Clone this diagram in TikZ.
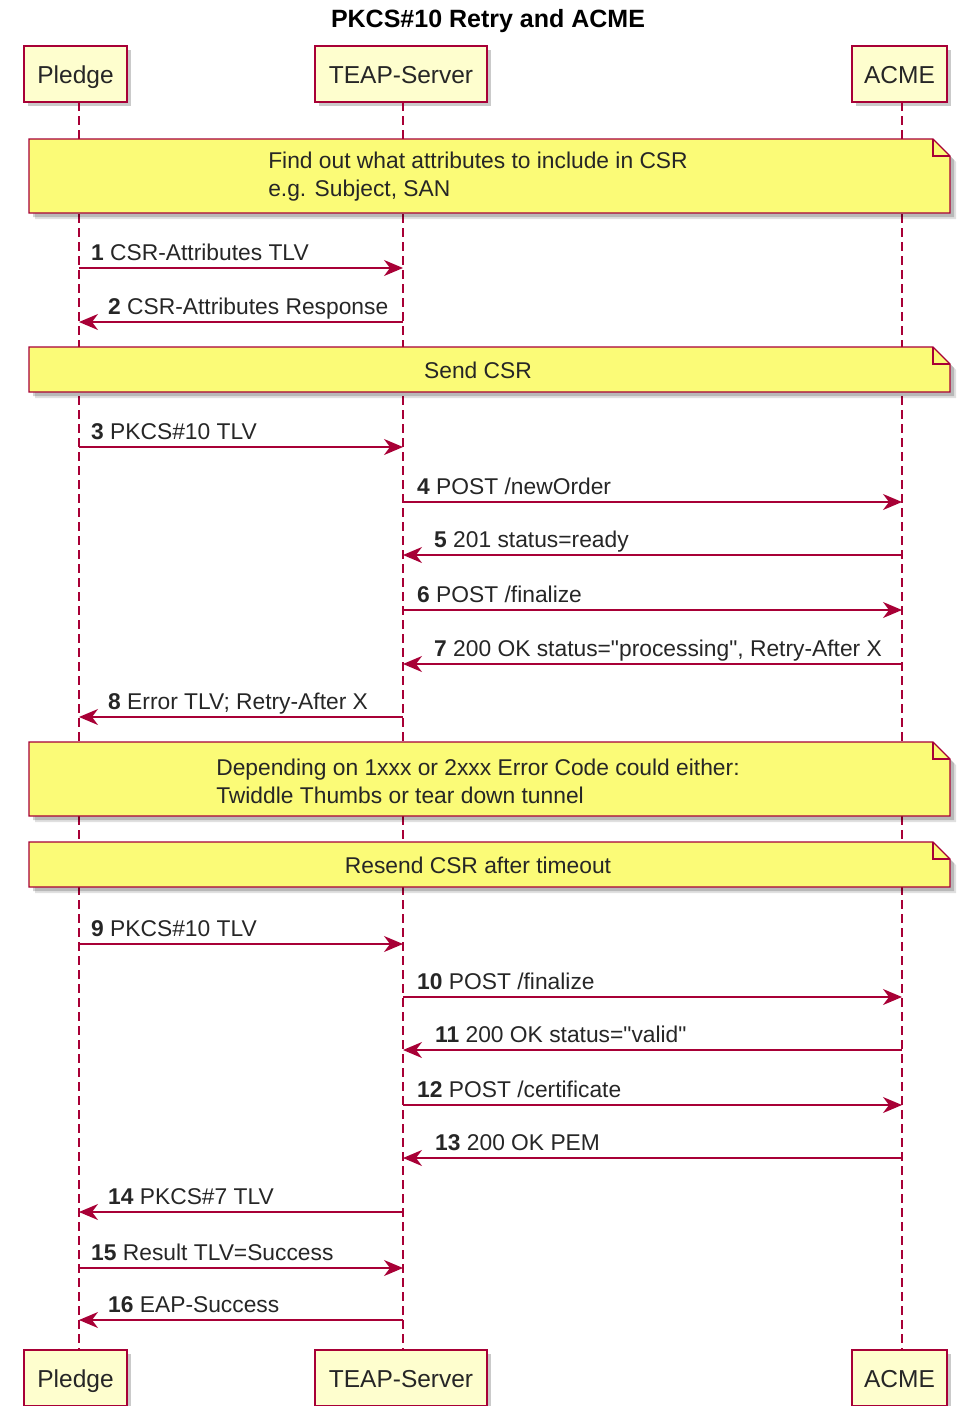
\documentclass[tikz,border=0pt]{standalone}
\usepackage{fontspec}
\setmainfont{Liberation Sans}
\usetikzlibrary{arrows.meta,shadows}
\definecolor{pumlred}{HTML}{A80036}
\definecolor{partfill}{HTML}{FEFECE}
\definecolor{notefill}{HTML}{FBFB77}
\tikzset{
  part/.style={draw=pumlred, line width=1.5pt, fill=partfill, minimum height=56pt, inner sep=0pt,
    text height=21pt, text depth=3pt,
    font=\fontsize{24.5}{28}\selectfont, text=black!85,
    drop shadow={shadow xshift=4pt, shadow yshift=-4pt, opacity=0.35, fill=black!60}},
  lifeline/.style={pumlred, line width=1.1pt, dash pattern=on 9pt off 5pt},
  msg/.style={pumlred, line width=1.3pt, -{Stealth[length=19pt, width=16pt, inset=6pt]}},
  lbl/.style={anchor=base west, inner sep=0pt, font=\fontsize{22.8}{28}\selectfont, text=black!85},
  notetext/.style={inner sep=0pt, align=left, font=\fontsize{22.8}{28}\selectfont, text=black!85},
  noteshape/.style={draw=pumlred, line width=1.3pt, fill=notefill, line join=miter},
}
\newcommand\pnote[4]{%
  \fill[black, opacity=0.12] (#1+6,#2+6) -- (#3+6-17,#2+6) -- (#3+6,#2+6+17) -- (#3+6,#4+6) -- (#1+6,#4+6) -- cycle;
  \fill[black, opacity=0.18] (#1+4,#2+4) -- (#3+4-17,#2+4) -- (#3+4,#2+4+17) -- (#3+4,#4+4) -- (#1+4,#4+4) -- cycle;
  \draw[noteshape] (#1,#2) -- (#3-17,#2) -- (#3,#2+17) -- (#3,#4) -- (#1,#4) -- cycle;
  \draw[pumlred, line width=1.3pt] (#3-17,#2) -- (#3-17,#2+17) -- (#3,#2+17);
}
\begin{document}
\begin{tikzpicture}[x=1pt, y=-1pt]
\useasboundingbox (0,0) rectangle (962,1406);

\node[font=\bfseries\fontsize{25}{28}\selectfont, inner sep=0pt] (title) at (488,21) {PKCS\#10 Retry and ACME};

% participants
\node[part, minimum width=103pt] (P1) at (75.5,74) {Pledge};
\node[part, minimum width=172pt] (T1) at (401,74) {TEAP-Server};
\node[part, minimum width=95pt] (A1) at (899.5,74) {ACME};
\node[part, minimum width=103pt] (P2) at (75.5,1378) {Pledge};
\node[part, minimum width=172pt] (T2) at (401,1378) {TEAP-Server};
\node[part, minimum width=95pt] (A2) at (899.5,1378) {ACME};

% lifelines
\coordinate (Lt) at (79,102);  \coordinate (Lb) at (79,1350);
\coordinate (Tt) at (403,102); \coordinate (Tb) at (403,1350);
\coordinate (At) at (902,102); \coordinate (Ab) at (902,1350);
\draw[lifeline] (Lt) -- (Lb);
\draw[lifeline] (Tt) -- (Tb);
\draw[lifeline] (At) -- (Ab);

% notes
\pnote{29}{139}{950}{213}
\node[notetext] (n1) at (478,177) {Find out what attributes to include in CSR\\e.g. Subject, SAN};
\pnote{29}{347}{950}{392}
\node[notetext] (n2) at (478,370) {Send CSR};
\pnote{29}{742}{950}{816}
\node[notetext] (n3) at (478,781) {Depending on 1xxx or 2xxx Error Code could either:\\Twiddle Thumbs or tear down tunnel};
\pnote{29}{842}{950}{887}
\node[notetext] (n4) at (478,865) {Resend CSR after timeout};

% messages
\draw[msg] (Lt |- 0,268) -- (Tt |- 0,268);
\node[lbl] (m1) at (91,260) {\textbf{1} CSR-Attributes TLV};
\draw[msg] (Tt |- 0,322) -- (Lt |- 0,322);
\node[lbl] (m2) at (108,314) {\textbf{2} CSR-Attributes Response};
\draw[msg] (Lt |- 0,447) -- (Tt |- 0,447);
\node[lbl] (m3) at (91,439) {\textbf{3} PKCS\#10 TLV};
\draw[msg] (Tt |- 0,502) -- (At |- 0,502);
\node[lbl] (m4) at (417,494) {\textbf{4} POST /newOrder};
\draw[msg] (At |- 0,555) -- (Tt |- 0,555);
\node[lbl] (m5) at (434,547) {\textbf{5} 201 status=ready};
\draw[msg] (Tt |- 0,610) -- (At |- 0,610);
\node[lbl] (m6) at (417,602) {\textbf{6} POST /finalize};
\draw[msg] (At |- 0,664) -- (Tt |- 0,664);
\node[lbl] (m7) at (434,656) {\textbf{7} 200 OK status=\textquotedbl processing\textquotedbl, Retry-After X};
\draw[msg] (Tt |- 0,717) -- (Lt |- 0,717);
\node[lbl] (m8) at (108,709) {\textbf{8} Error TLV; Retry-After X};
\draw[msg] (Lt |- 0,944) -- (Tt |- 0,944);
\node[lbl] (m9) at (91,936) {\textbf{9} PKCS\#10 TLV};
\draw[msg] (Tt |- 0,997) -- (At |- 0,997);
\node[lbl] (m10) at (417,989) {\textbf{10} POST /finalize};
\draw[msg] (At |- 0,1050) -- (Tt |- 0,1050);
\node[lbl] (m11) at (435,1042) {\textbf{11} 200 OK status=\textquotedbl valid\textquotedbl};
\draw[msg] (Tt |- 0,1105) -- (At |- 0,1105);
\node[lbl] (m12) at (417,1097) {\textbf{12} POST /certificate};
\draw[msg] (At |- 0,1158) -- (Tt |- 0,1158);
\node[lbl] (m13) at (435,1150) {\textbf{13} 200 OK PEM};
\draw[msg] (Tt |- 0,1212) -- (Lt |- 0,1212);
\node[lbl] (m14) at (108,1204) {\textbf{14} PKCS\#7 TLV};
\draw[msg] (Lt |- 0,1268) -- (Tt |- 0,1268);
\node[lbl] (m15) at (91,1260) {\textbf{15} Result TLV=Success};
\draw[msg] (Tt |- 0,1320) -- (Lt |- 0,1320);
\node[lbl] (m16) at (108,1312) {\textbf{16} EAP-Success};
\end{tikzpicture}
\end{document}
